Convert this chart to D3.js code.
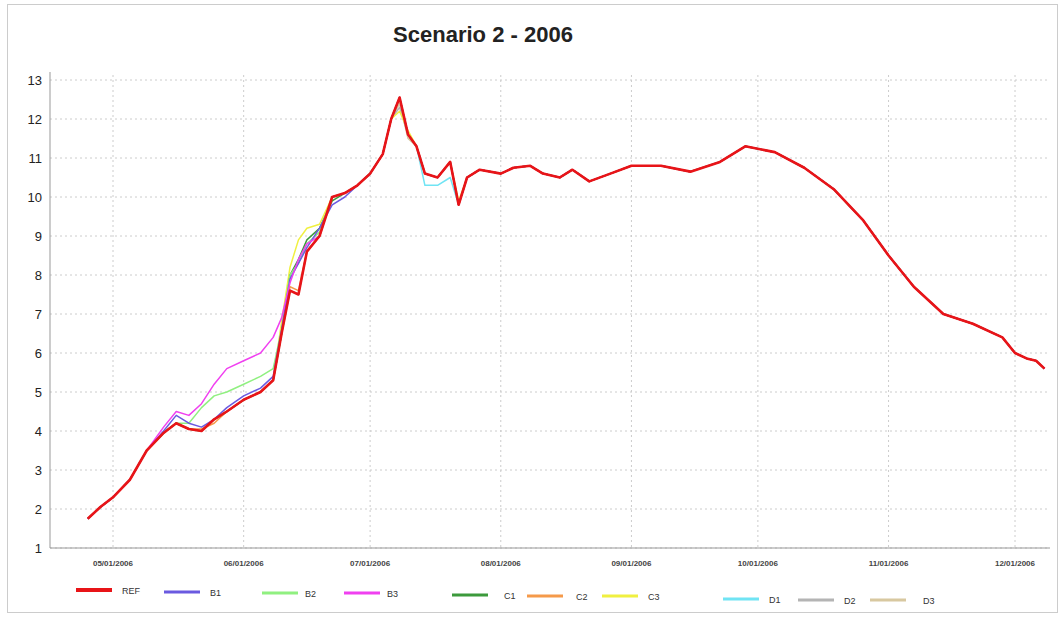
<!DOCTYPE html>
<html><head><meta charset="utf-8">
<script src="https://cdn.jsdelivr.net/npm/d3@7"></script>
<style>body{margin:0;background:#fff;font-family:"Liberation Sans",Arial,sans-serif}</style>
</head><body><svg id="c" width="1061" height="617"></svg>
<script>
const refDates = ["2006-04-25","2006-04-28","2006-05-01","2006-05-05","2006-05-09","2006-05-13","2006-05-16","2006-05-19","2006-05-22","2006-05-25","2006-05-28","2006-06-01","2006-06-05","2006-06-08","2006-06-10","2006-06-12","2006-06-14","2006-06-16","2006-06-19","2006-06-22","2006-06-25","2006-06-28","2006-07-01","2006-07-04","2006-07-06","2006-07-08","2006-07-10","2006-07-12","2006-07-14","2006-07-17","2006-07-20","2006-07-22","2006-07-24","2006-07-27","2006-08-01","2006-08-04","2006-08-08","2006-08-11","2006-08-15","2006-08-18","2006-08-22","2006-08-27","2006-09-01","2006-09-08","2006-09-15","2006-09-22","2006-09-28","2006-10-05","2006-10-12","2006-10-19","2006-10-26","2006-11-01","2006-11-07","2006-11-14","2006-11-21","2006-11-28","2006-12-01","2006-12-04","2006-12-06","2006-12-08"];
const refValues = [1.75,2.05,2.3,2.75,3.5,3.95,4.2,4.05,4.0,4.3,4.5,4.8,5.0,5.3,6.5,7.6,7.5,8.6,9.0,10.0,10.1,10.3,10.6,11.1,12.0,12.55,11.6,11.3,10.6,10.5,10.9,9.8,10.5,10.7,10.6,10.75,10.8,10.6,10.5,10.7,10.4,10.6,10.8,10.8,10.65,10.9,11.3,11.15,10.75,10.2,9.4,8.5,7.7,7.0,6.75,6.4,6.0,5.85,5.8,5.6];

// variants: values over a window of dates, following REF elsewhere
const b1Window = {dates:["2006-05-13","2006-05-16","2006-05-19","2006-05-22","2006-05-25","2006-05-28","2006-06-01","2006-06-05","2006-06-08","2006-06-10","2006-06-12","2006-06-14","2006-06-16","2006-06-19","2006-06-22","2006-06-25"], values:[4.0,4.4,4.2,4.1,4.3,4.6,4.9,5.1,5.4,6.6,7.9,8.3,8.7,9.2,9.8,10.0]};
const b2Window = {dates:["2006-05-16","2006-05-19","2006-05-22","2006-05-25","2006-05-28","2006-06-01","2006-06-05","2006-06-08","2006-06-10","2006-06-12","2006-06-14","2006-06-16","2006-06-19"], values:[4.2,4.2,4.6,4.9,5.0,5.2,5.4,5.6,6.6,8.0,8.3,8.8,9.1]};
const b3Window = {dates:["2006-05-13","2006-05-16","2006-05-19","2006-05-22","2006-05-25","2006-05-28","2006-06-01","2006-06-05","2006-06-08","2006-06-10","2006-06-12","2006-06-14","2006-06-16"], values:[4.1,4.5,4.4,4.7,5.2,5.6,5.8,6.0,6.4,6.9,7.8,8.4,8.8]};
const c1Window = {dates:["2006-06-12","2006-06-14","2006-06-16","2006-06-19","2006-06-22"], values:[8.0,8.4,8.9,9.2,9.9]};
const c2Window = {dates:["2006-05-22","2006-05-25","2006-06-12","2006-06-14"], values:[4.05,4.2,7.7,7.6]};
const c3Window = {dates:["2006-06-10","2006-06-12","2006-06-14","2006-06-16","2006-06-19","2006-07-08","2006-07-10","2006-07-22"], values:[6.8,8.2,8.9,9.2,9.3,12.2,11.7,9.9]};
const d1Window = {dates:["2006-07-14","2006-07-17","2006-07-20"], values:[10.3,10.3,10.5]};
const d2Window = {dates:["2006-07-08"], values:[12.3]};
const d3Window = {dates:["2006-07-08","2006-07-10"], values:[12.4,11.5]};

const seriesNames = ["REF","B1","B2","B3","C1","C2","C3","D1","D2","D3"];
const seriesColors = ["#e81418","#6a5ae0","#90f080","#f040f0","#3c9a3c","#f59a4a","#f0f040","#70e4f4","#b4b4b4","#d8c8a0"];
const windows = [null,b1Window,b2Window,b3Window,c1Window,c2Window,c3Window,d1Window,d2Window,d3Window];
const monthTicks = ["2006-05-01","2006-06-01","2006-07-01","2006-08-01","2006-09-01","2006-10-01","2006-11-01","2006-12-01"];
const yTicks = [1,2,3,4,5,6,7,8,9,10,11,12,13];

const parse = d3.utcParse("%Y-%m-%d");
const svg = d3.select("#c");
svg.append("rect").attr("x",7.5).attr("y",4.5).attr("width",1050).attr("height",608)
  .attr("fill","#fff").attr("stroke","#ccc");

const x = d3.scaleUtc().domain([parse("2006-05-01"), parse("2006-12-01")]).range([113,1015]);
const y = d3.scaleLinear().domain([1,13]).range([548,80]);

const L = 50, R = 1050;
svg.append("g").selectAll("line").data(yTicks).join("line")
  .attr("x1",L).attr("x2",R).attr("y1",d=>y(d)).attr("y2",d=>y(d))
  .attr("stroke","#ccc").attr("stroke-dasharray","2,3");
svg.append("g").selectAll("line").data(monthTicks).join("line")
  .attr("x1",d=>x(parse(d))).attr("x2",d=>x(parse(d))).attr("y1",75).attr("y2",548)
  .attr("stroke","#ccc").attr("stroke-dasharray","2,3");
svg.append("line").attr("x1",L).attr("x2",L).attr("y1",72).attr("y2",548).attr("stroke","#999");
svg.append("line").attr("x1",L).attr("x2",R).attr("y1",548).attr("y2",548).attr("stroke","#999");

svg.append("g").selectAll("text").data(yTicks).join("text")
  .attr("x",42).attr("y",d=>y(d)+5).attr("text-anchor","end")
  .attr("font-size",13).attr("fill","#222").text(d=>d);
svg.append("g").selectAll("text").data(monthTicks).join("text")
  .attr("x",d=>x(parse(d))).attr("y",566).attr("text-anchor","middle")
  .attr("font-size",8).attr("font-weight","bold").attr("fill","#444")
  .text(d=>d3.utcFormat("%m/%d/%Y")(parse(d)));

svg.append("text").attr("x",483).attr("y",42).attr("text-anchor","middle")
  .attr("font-size",22).attr("font-weight","bold").attr("fill","#222").text("Scenario 2 - 2006");

const base = refDates.map((d,i)=>({d:parse(d), v:refValues[i]}));
function build(w){
  if(!w) return base;
  const m = new Map(w.dates.map((d,i)=>[d,w.values[i]]));
  return refDates.map((d,i)=>({d:parse(d), v: m.has(d)? m.get(d) : refValues[i]}));
}
const line = d3.line().x(p=>x(p.d)).y(p=>y(p.v));
const order = [9,8,7,6,5,4,2,1,3,0];
order.forEach(i=>{
  svg.append("path").datum(build(windows[i])).attr("d",line).attr("fill","none")
    .attr("stroke",seriesColors[i]).attr("stroke-width", i===0?2.6:1.5).attr("stroke-linejoin","round");
});

const legX = [76,164,262,344,452,527,602,723,798,870];
const legTX = [128,216,311,393,510,582,654,775,850,929];
const legY = [590,592,593,593,595,596,596,599,600,600];
const leg = svg.append("g");
seriesNames.forEach((n,i)=>{
  leg.append("line").attr("x1",legX[i]).attr("x2",legX[i]+36).attr("y1",legY[i]).attr("y2",legY[i])
    .attr("stroke",seriesColors[i]).attr("stroke-width", i===0?4:3);
  leg.append("text").attr("x",legTX[i]-6).attr("y",legY[i]+4).attr("font-size",9).attr("fill","#333").text(n);
});
</script></body></html>
